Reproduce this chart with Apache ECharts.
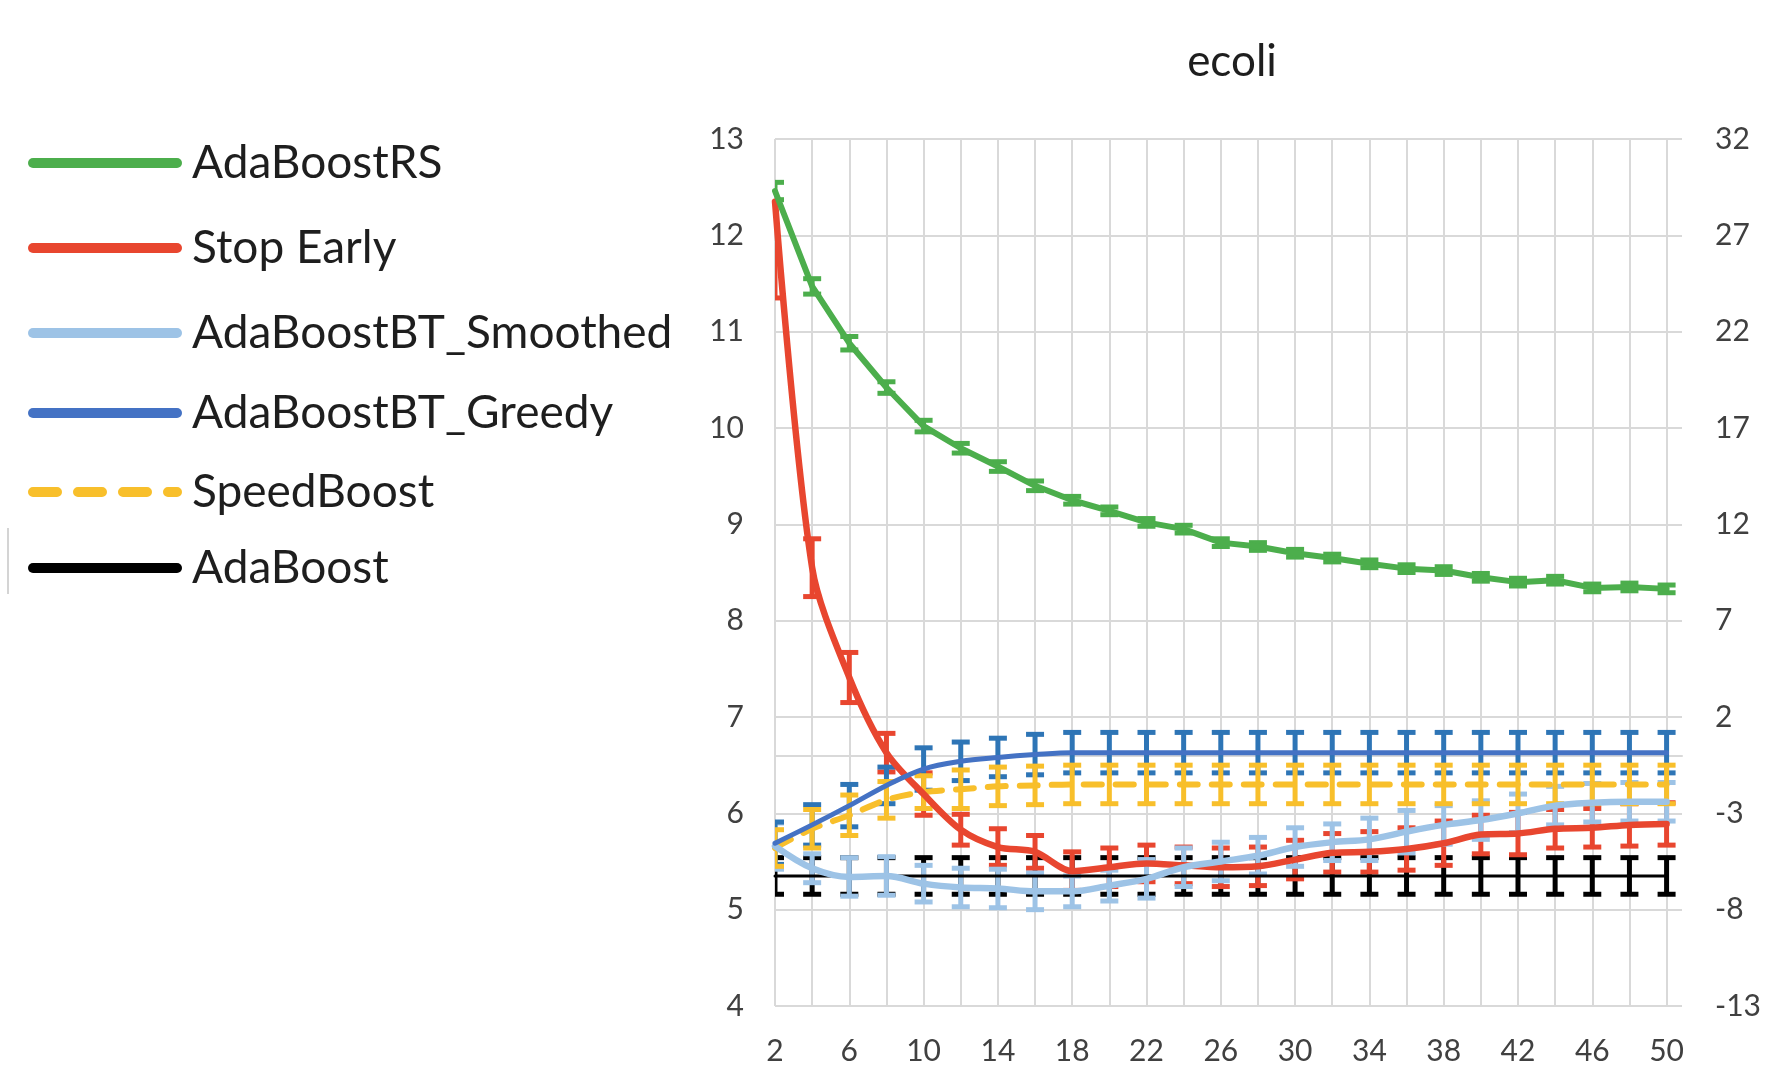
<!DOCTYPE html>
<html>
<head>
<meta charset="utf-8">
<title>ecoli</title>
<script src="https://cdn.jsdelivr.net/npm/echarts@6/dist/echarts.min.js"></script>
<style>
  html, body { margin: 0; padding: 0; background: #ffffff; }
  #chart { width: 1777px; height: 1068px; }
</style>
</head>
<body>
<div id="chart"></div>
<script>
// Number of boosting rounds (x positions)
const xValues = [2, 4, 6, 8, 10, 12, 14, 16, 18, 20, 22, 24, 26, 28, 30, 32, 34, 36, 38, 40, 42, 44, 46, 48, 50];
const xTickLabels = [2, 6, 10, 14, 18, 22, 26, 30, 34, 38, 42, 46, 50];
const leftTicks = [4, 5, 6, 7, 8, 9, 10, 11, 12, 13];
const rightTicks = [-13, -8, -3, 2, 7, 12, 17, 22, 27, 32];

const seriesNames = ['AdaBoostRS', 'Stop Early', 'AdaBoostBT_Smoothed', 'AdaBoostBT_Greedy', 'SpeedBoost', 'AdaBoost'];

// Mean error per method
const adaBoostRS = [12.46, 11.47, 10.88, 10.42, 10.02, 9.79, 9.6, 9.4, 9.25, 9.14, 9.02, 8.95, 8.81, 8.77, 8.70, 8.65, 8.59, 8.54, 8.52, 8.45, 8.40, 8.42, 8.34, 8.35, 8.33];
const stopEarly = [12.35, 8.55, 7.41, 6.63, 6.2, 5.83, 5.65, 5.6, 5.4, 5.44, 5.48, 5.46, 5.44, 5.45, 5.52, 5.59, 5.6, 5.63, 5.69, 5.78, 5.79, 5.84, 5.85, 5.88, 5.89];
const btSmoothed = [5.66, 5.43, 5.34, 5.35, 5.27, 5.23, 5.22, 5.19, 5.19, 5.25, 5.32, 5.44, 5.5, 5.56, 5.65, 5.7, 5.73, 5.81, 5.88, 5.93, 6.0, 6.08, 6.11, 6.12, 6.12];
const btGreedy = [5.69, 5.88, 6.08, 6.29, 6.46, 6.54, 6.58, 6.61, 6.63, 6.63, 6.63, 6.63, 6.63, 6.63, 6.63, 6.63, 6.63, 6.63, 6.63, 6.63, 6.63, 6.63, 6.63, 6.63, 6.63];
const speedBoost = [5.64, 5.84, 5.98, 6.14, 6.22, 6.25, 6.28, 6.29, 6.3, 6.3, 6.3, 6.3, 6.3, 6.3, 6.3, 6.3, 6.3, 6.3, 6.3, 6.3, 6.3, 6.3, 6.3, 6.3, 6.3];
const adaBoost = [5.35, 5.35, 5.35, 5.35, 5.35, 5.35, 5.35, 5.35, 5.35, 5.35, 5.35, 5.35, 5.35, 5.35, 5.35, 5.35, 5.35, 5.35, 5.35, 5.35, 5.35, 5.35, 5.35, 5.35, 5.35];

// Error bar half-widths
const adaBoostRSErr = [0.09, 0.08, 0.07, 0.06, 0.06, 0.05, 0.05, 0.05, 0.04, 0.04, 0.04, 0.04, 0.04, 0.04, 0.04, 0.04, 0.04, 0.04, 0.04, 0.04, 0.04, 0.04, 0.04, 0.04, 0.04];
const stopEarlyErrUp = [0, 0.3, 0.26, 0.2, 0.22, 0.16, 0.19, 0.17, 0.2, 0.2, 0.19, 0.19, 0.2, 0.2, 0.2, 0.2, 0.21, 0.22, 0.23, 0.2, 0.22, 0.2, 0.2, 0.22, 0.22];
const stopEarlyErrDown = [1.0, 0.3, 0.26, 0.2, 0.22, 0.16, 0.19, 0.17, 0.2, 0.2, 0.19, 0.19, 0.2, 0.2, 0.2, 0.2, 0.21, 0.22, 0.23, 0.2, 0.22, 0.2, 0.2, 0.22, 0.22];
const btSmoothedErr = [0.24, 0.15, 0.2, 0.2, 0.19, 0.2, 0.2, 0.19, 0.16, 0.16, 0.2, 0.2, 0.2, 0.19, 0.2, 0.19, 0.22, 0.22, 0.2, 0.2, 0.2, 0.2, 0.2, 0.2, 0.2];
const btGreedyErr = [0.22, 0.21, 0.22, 0.19, 0.22, 0.2, 0.2, 0.21, 0.21, 0.21, 0.21, 0.21, 0.21, 0.21, 0.21, 0.21, 0.21, 0.21, 0.21, 0.21, 0.21, 0.21, 0.21, 0.21, 0.21];
const speedBoostErr = [0.19, 0.2, 0.21, 0.19, 0.17, 0.2, 0.2, 0.2, 0.2, 0.2, 0.2, 0.2, 0.2, 0.2, 0.2, 0.2, 0.2, 0.2, 0.2, 0.2, 0.2, 0.2, 0.2, 0.2, 0.2];
const adaBoostErr = [0.19, 0.19, 0.19, 0.19, 0.19, 0.19, 0.19, 0.19, 0.19, 0.19, 0.19, 0.19, 0.19, 0.19, 0.19, 0.19, 0.19, 0.19, 0.19, 0.19, 0.19, 0.19, 0.19, 0.19, 0.19];

const FONT = 'Lato, "Open Sans", sans-serif';
const GRID_COLOR = '#d9d9d9';
const LABEL_COLOR = '#404040';

const colors = {
  rs: '#4CAE4C',
  stop: '#E8462F',
  smooth: '#9DC3E6',
  greedyLine: '#4472C4',
  greedyBar: '#2E75B6',
  speed: '#F8BF2B',
  ada: '#000000'
};

// Vertical error bar with a cap at each end
function errorBars(name, color, means, down, up, z) {
  return {
    type: 'custom',
    name: name + ' error',
    silent: true,
    clip: true,
    z: z,
    data: xValues.map((x, i) => [x, means[i], down[i], up[i]]),
    encode: { x: 0, y: 1 },
    renderItem: function (params, api) {
      const x = api.value(0);
      const m = api.value(1);
      const dn = api.value(2);
      const upv = api.value(3);
      const lo = api.coord([x, m - dn]);
      const hi = api.coord([x, m + upv]);
      const half = 9;
      const style = { stroke: color, lineWidth: 5, fill: null };
      const children = [
        { type: 'line', shape: { x1: lo[0], y1: lo[1], x2: hi[0], y2: hi[1] }, style: style }
      ];
      if (dn > 0) children.push({ type: 'line', shape: { x1: lo[0] - half, y1: lo[1], x2: lo[0] + half, y2: lo[1] }, style: style });
      if (upv > 0) children.push({ type: 'line', shape: { x1: hi[0] - half, y1: hi[1], x2: hi[0] + half, y2: hi[1] }, style: style });
      return { type: 'group', children: children };
    }
  };
}

function lineSeries(name, color, values, width, smooth, z, dash) {
  return {
    type: 'line',
    name: name,
    z: z,
    data: xValues.map((x, i) => [x, values[i]]),
    showSymbol: false,
    symbol: 'none',
    smooth: smooth,
    silent: true,
    lineStyle: { color: color, width: width, type: dash || 'solid', cap: 'round', join: 'round' }
  };
}

const legendRows = [
  { name: seriesNames[0], color: colors.rs, y: 163, dash: null },
  { name: seriesNames[1], color: colors.stop, y: 248, dash: null },
  { name: seriesNames[2], color: colors.smooth, y: 333, dash: null },
  { name: seriesNames[3], color: colors.greedyLine, y: 413, dash: null },
  { name: seriesNames[4], color: colors.speed, y: 492, dash: [24, 21] },
  { name: seriesNames[5], color: colors.ada, y: 568, dash: null }
];

const legendGraphics = [];
legendRows.forEach(function (r) {
  legendGraphics.push({
    type: 'line',
    shape: { x1: 33, y1: r.y, x2: 177, y2: r.y },
    style: { stroke: r.color, lineWidth: 10, lineCap: 'round', lineDash: r.dash },
    silent: true
  });
  legendGraphics.push({
    type: 'text',
    x: 192,
    y: r.y,
    style: { text: r.name, font: '46px ' + FONT, fill: '#1e1e1e', verticalAlign: 'middle', align: 'left' },
    silent: true
  });
});

legendGraphics.push({
  type: 'line',
  shape: { x1: 8, y1: 528, x2: 8, y2: 594 },
  style: { stroke: '#d4d4d4', lineWidth: 2 },
  silent: true
});

legendGraphics.push({
  type: 'text',
  x: 1232,
  y: 62,
  style: { text: 'ecoli', font: '44px ' + FONT, fill: '#1e1e1e', align: 'center', verticalAlign: 'middle' },
  silent: true
});

const chart = echarts.init(document.getElementById('chart'), null, { renderer: 'canvas' });

chart.setOption({
  animation: false,
  backgroundColor: '#ffffff',
  grid: { left: 775, right: 95, top: 139, bottom: 62, containLabel: false },
  xAxis: {
    type: 'value',
    min: 2,
    max: 50.83,
    interval: 2,
    axisLine: { show: true, lineStyle: { color: GRID_COLOR, width: 2 } },
    axisTick: { show: true, length: 12, customValues: xValues, lineStyle: { color: GRID_COLOR, width: 2 } },
    axisLabel: {
      customValues: xTickLabels,
      margin: 30,
      color: LABEL_COLOR,
      fontFamily: FONT,
      fontSize: 30
    },
    splitLine: { show: true, lineStyle: { color: GRID_COLOR, width: 2 } }
  },
  yAxis: [
    {
      type: 'value',
      min: leftTicks[0],
      max: leftTicks[leftTicks.length - 1],
      interval: 1,
      axisLine: { show: false },
      axisTick: { show: false },
      axisLabel: { margin: 31, color: LABEL_COLOR, fontFamily: FONT, fontSize: 30 },
      splitLine: { show: true, lineStyle: { color: GRID_COLOR, width: 2 } }
    },
    {
      type: 'value',
      position: 'right',
      min: rightTicks[0],
      max: rightTicks[rightTicks.length - 1],
      interval: 5,
      axisLine: { show: false },
      axisTick: { show: false },
      axisLabel: { margin: 33, color: LABEL_COLOR, fontFamily: FONT, fontSize: 30 },
      splitLine: { show: false }
    }
  ],
  graphic: legendGraphics,
  series: [
    errorBars(seriesNames[5], colors.ada, adaBoost, adaBoostErr, adaBoostErr, 2),
    errorBars(seriesNames[1], colors.stop, stopEarly, stopEarlyErrDown, stopEarlyErrUp, 3),
    errorBars(seriesNames[2], colors.smooth, btSmoothed, btSmoothedErr, btSmoothedErr, 4),
    errorBars(seriesNames[0], colors.rs, adaBoostRS, adaBoostRSErr, adaBoostRSErr, 5),
    errorBars(seriesNames[3], colors.greedyBar, btGreedy, btGreedyErr, btGreedyErr, 6),
    errorBars(seriesNames[4], colors.speed, speedBoost, speedBoostErr, speedBoostErr, 7),
    lineSeries(seriesNames[5], colors.ada, adaBoost, 3, false, 10),
    lineSeries(seriesNames[4], colors.speed, speedBoost, 6, 0.3, 11, [18, 14]),
    lineSeries(seriesNames[1], colors.stop, stopEarly, 6.5, 0.3, 12),
    lineSeries(seriesNames[2], colors.smooth, btSmoothed, 6.5, 0.35, 13),
    lineSeries(seriesNames[3], colors.greedyLine, btGreedy, 5, 0.35, 14),
    lineSeries(seriesNames[0], colors.rs, adaBoostRS, 6, false, 15)
  ]
});
</script>
</body>
</html>
